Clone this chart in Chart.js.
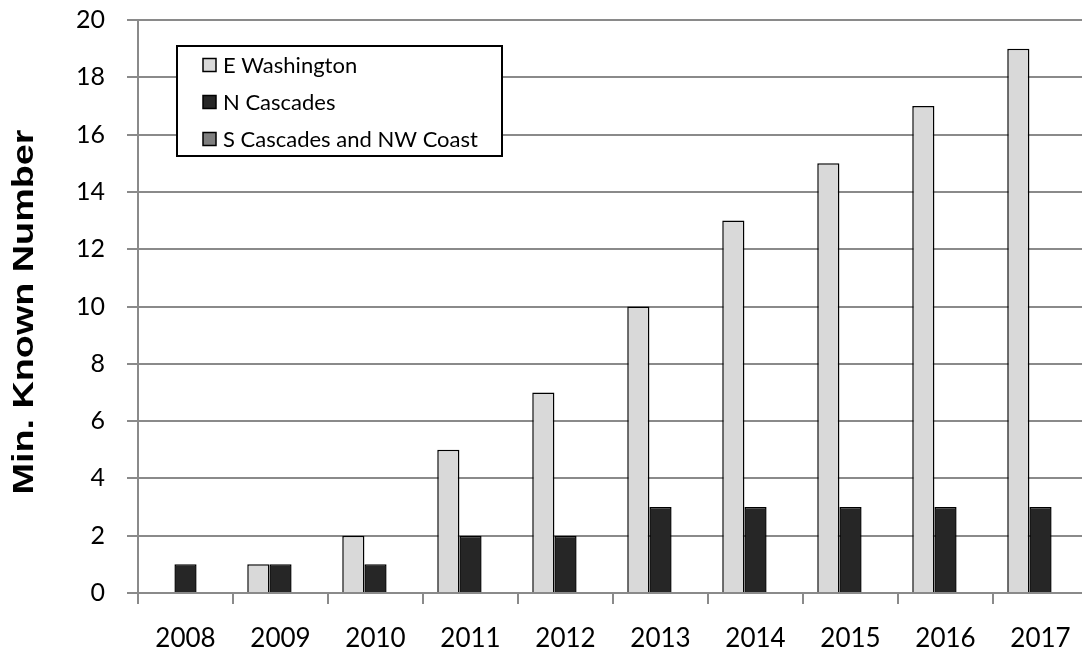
<!DOCTYPE html>
<html>
<head>
<meta charset="utf-8">
<script src="https://cdn.jsdelivr.net/npm/chart.js@4/dist/chart.umd.min.js"></script>
<style>
  html, body { margin: 0; padding: 0; background: #ffffff; overflow: hidden; }
  #wrap { position: relative; width: 1100px; height: 654px; }
</style>
</head>
<body>
<div id="wrap"><canvas id="chart"></canvas></div>
<script>
// Wolf packs by recovery region, minimum known number per year
const years = ['2008', '2009', '2010', '2011', '2012', '2013', '2014', '2015', '2016', '2017'];
const eWashington = [0, 1, 2, 5, 7, 10, 13, 15, 17, 19];
const nCascades = [1, 1, 1, 2, 2, 3, 3, 3, 3, 3];
const sCascadesNWCoast = [0, 0, 0, 0, 0, 0, 0, 0, 0, 0];
const seriesNames = ['E Washington', 'N Cascades', 'S Cascades and NW Coast'];
const yTitle = 'Min. Known Number';

const GRID = '#8a8a8a';
const TICK_FONT = 'Lato, "Open Sans", sans-serif';

// Rotated y-axis title, widened along its reading direction
const yTitlePlugin = {
  id: 'yTitle',
  afterDraw(chart) {
    const ctx = chart.ctx;
    ctx.save();
    ctx.font = 'bold 29px "Liberation Sans", Arial, sans-serif';
    ctx.fillStyle = '#000000';
    ctx.textAlign = 'center';
    ctx.textBaseline = 'alphabetic';
    const w = ctx.measureText(yTitle).width;
    ctx.translate(33, 312);
    ctx.rotate(-Math.PI / 2);
    ctx.scale(365 / w, 1);
    ctx.fillText(yTitle, 0, 0);
    ctx.restore();
  }
};

// Boxed legend sitting inside the plot area
const boxLegendPlugin = {
  id: 'boxLegend',
  afterDraw(chart) {
    const ctx = chart.ctx;
    const x0 = 177, y0 = 46, bw = 325, bh = 110;
    ctx.save();
    ctx.fillStyle = '#ffffff';
    ctx.fillRect(x0, y0, bw, bh);
    ctx.strokeStyle = '#000000';
    ctx.lineWidth = 2;
    ctx.strokeRect(x0, y0, bw, bh);
    ctx.font = '22px ' + TICK_FONT;
    ctx.textAlign = 'left';
    ctx.textBaseline = 'middle';
    chart.data.datasets.forEach((ds, i) => {
      const cy = y0 + 19 + i * 37;
      ctx.fillStyle = ds.legendColor;
      ctx.fillRect(203, cy - 6.5, 13, 13);
      ctx.lineWidth = 1.5;
      ctx.strokeStyle = '#000000';
      ctx.strokeRect(203, cy - 6.5, 13, 13);
      ctx.fillStyle = '#000000';
      ctx.fillText(ds.label, 223, cy + 1);
    });
    ctx.restore();
  }
};

new Chart(document.getElementById('chart'), {
  type: 'bar',
  data: {
    labels: years,
    datasets: [
      { label: seriesNames[0], data: eWashington, backgroundColor: '#d9d9d9', legendColor: '#d9d9d9', borderColor: '#000000', borderWidth: 1.5 },
      { label: seriesNames[1], data: nCascades, backgroundColor: '#262626', legendColor: '#262626', borderColor: '#000000', borderWidth: 1.5 },
      { label: seriesNames[2], data: sCascadesNWCoast, backgroundColor: '#7f7f7f', legendColor: '#7f7f7f', borderColor: '#000000', borderWidth: 1.5 }
    ]
  },
  options: {
    responsive: true,
    maintainAspectRatio: false,
    animation: false,
    layout: { padding: { top: 20, right: 12, bottom: 0, left: 0 }, autoPadding: false },
    datasets: { bar: { categoryPercentage: 0.7, barPercentage: 1.0 } },
    plugins: {
      legend: { display: false },
      tooltip: { enabled: false }
    },
    scales: {
      x: {
        afterFit(scale) { scale.height = 61; scale.paddingLeft = 0; scale.paddingRight = 0; },
        grid: { offset: true, drawOnChartArea: false, drawTicks: true, tickLength: 11, color: GRID, lineWidth: 2 },
        border: { display: true, color: GRID, width: 2 },
        ticks: { color: '#000000', padding: 19, font: { family: TICK_FONT, size: 26 } }
      },
      y: {
        min: 0,
        max: 20,
        afterFit(scale) { scale.width = 138; scale.paddingTop = 0; scale.paddingBottom = 0; },
        grid: { drawOnChartArea: true, drawTicks: true, tickLength: 11, color: GRID, lineWidth: 2 },
        border: { display: true, color: GRID, width: 2 },
        ticks: { stepSize: 2, color: '#000000', padding: 22, font: { family: TICK_FONT, size: 25 } }
      }
    }
  },
  plugins: [yTitlePlugin, boxLegendPlugin]
});
</script>
</body>
</html>
